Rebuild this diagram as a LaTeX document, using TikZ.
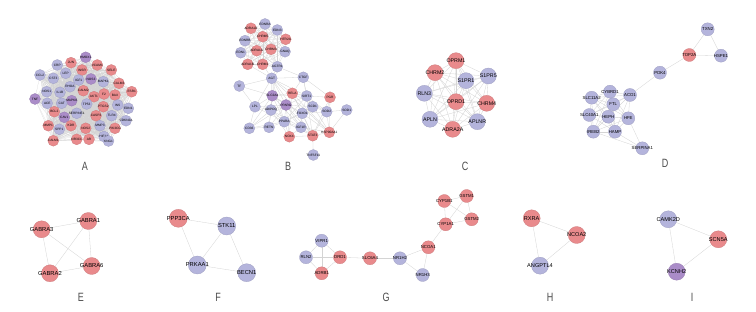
\documentclass[tikz,border=0pt]{standalone}
\usepackage{fontspec}
\usepackage{graphicx}
\setmainfont{Liberation Sans}
\usetikzlibrary{backgrounds}
\definecolor{pk}{RGB}{233,138,140}
\definecolor{lv}{RGB}{180,180,220}
\definecolor{pu}{RGB}{170,140,200}
\definecolor{edgec}{RGB}{212,212,212}
\newcommand{\zw}[1]{\makebox[0pt]{#1}}
\tikzset{
  gn/.style={circle, inner sep=0pt, line width=0.3pt, text=black},
  ed/.style={draw=edgec, line width=0.3pt},
  edA/.style={draw=edgec, line width=0.15pt},
  lab/.style={text=black!70, font=\fontsize{12}{12}\selectfont, inner sep=0pt}
}
\begin{document}
\begin{tikzpicture}[x=1pt,y=-1pt]
\begin{pgfonlayer}{background}
\fill[white] (0,0) rectangle (756,312);
\end{pgfonlayer}
\useasboundingbox (0,0) rectangle (756,312);

% ---------------- Panel A ----------------
\foreach [count=\i] \t/\x/\y/\col in {
HMOX1/85.7/57.3/pu, JUN/71/62.7/pk, VCAM1/97.3/65/pk, CRP/57.3/65/lv,
SELE/111.3/70/pk, INSR/82/70/pk, LEP/65.7/73.3/lv, CCL2/40/75/lv,
CST3/53.3/78.3/lv, IGF1/78.7/80/lv, NOS3/91/79/pu, MAPK1/103.3/81.7/lv,
CALM3/119/83.3/pk, RHOA/70/86.7/lv, CALM2/83.3/90.7/pk, ESR1/131.7/91.7/pk,
NOS1/46.7/91.7/lv, IL1B/60/92.3/lv, F2/104/94/pk, BAX/115/95/pk,
AKT1/94/96.7/pk, TNF/35/99/pu, MAPK8/71.7/100.7/pu, ACE/47.3/103.3/lv,
CAT/61.7/103.3/lv, TP53/86.7/104/lv, PTGS2/103.3/106.7/pk, INS/117.7/105/lv,
EDN1/128.3/108.3/lv, BCL2/54.3/111.7/pk, SERPINE1/76.7/113.3/lv, CASP3/96/115.7/pk,
TLR4/111.7/115.7/lv, CAV1/64.3/117.3/pu, CDKN2A/126/120.7/lv, MMP1/48.3/125.7/pk,
KDR/71/125.7/pk, MMP3/100/125.7/lv, NOS2/85.7/128.3/pk, PIK3CG/115/128.3/pk,
SPP1/59.3/129.3/lv, CALM1/53.3/140.7/pk, NR3C1/76.7/139.3/pk, AR/89/139.3/pk,
HIF1A/104/136.5/lv, KNG1/108.5/141/lv}{
  \node[gn, minimum size=11pt, fill=\col, draw=\col!88!black, font=\fontsize{3.2}{3.2}\selectfont] (a\i) at (\x,\y) {\zw{\t}};
}
\begin{pgfonlayer}{background}
\foreach \i in {1,...,45}{
  \pgfmathtruncatemacro\s{\i+1}
  \foreach \j in {\s,...,46}{\draw[edA] (a\i) -- (a\j);}
}
\end{pgfonlayer}
\node[lab] (labA) at (85,166) {\scalebox{0.75}[1]{A}};

% ---------------- Panel B ----------------
\foreach [count=\i] \t/\x/\y/\col in {
ADRA1D/251/28.3/pk, EDNRA/265/24/lv, EDN3/277.3/30/lv, EDNRB/245/40.7/lv,
CHRM5/262.7/36.7/pk, HTR2A/285.7/39.3/pk, ADRA1A/256.7/50.7/pk, CHRM3/271/49.3/pk,
GNAQ/285/51.7/lv, EDN1/240.7/52.7/lv, ADRA1B/247.7/64.3/pk, CHRM1/262.7/64.3/pk,
AGTR1/277.3/66.7/lv}{
  \node[gn, minimum size=11pt, fill=\col, draw=\col!88!black, font=\fontsize{3.2}{3.2}\selectfont, alias=b\t] (bt\i) at (\x,\y) {\zw{\t}};
}
\foreach \t/\x/\y/\col in {
AGT/271.7/78.3/lv, CTGF/303.3/77.3/lv, TF/239.3/86/lv, SLC2A4/272.3/95.7/pu,
RELA/292.3/93.3/pk, SIRT1/306.7/96/lv, PGR/330/97.3/pk, PPARG/286/105/pu,
LPL/255/106.7/lv, ADIPOQ/271/110/lv, SCD1/312.7/106.7/lv, SOD2/326.7/111.7/lv,
SOD1/346.7/110/lv, FOXO1/302.3/113.3/lv, PPARA/284.3/121.7/lv, CD36/249.3/128.3/lv,
RETN/269/127.3/lv, IGF1R/301/127.3/lv, STAT3/312.7/135.7/pk, HSP90AA1/329.3/132.3/pk,
NOX4/289.3/136.7/pk, TNFSF11/313.3/155/lv}{
  \node[gn, minimum size=11pt, fill=\col, draw=\col!88!black, font=\fontsize{3.2}{3.2}\selectfont] (b\t) at (\x,\y) {\zw{\t}};
}
\begin{pgfonlayer}{background}
\foreach \i in {1,...,12}{
  \pgfmathtruncatemacro\s{\i+1}
  \foreach \j in {\s,...,13}{\draw[ed, line width=0.2pt] (bt\i) -- (bt\j);}
}
\foreach \u/\v in {
AGT/AGTR1, AGT/CHRM1, AGT/ADRA1B, AGTR1/CTGF, AGTR1/SLC2A4,
AGT/CTGF, AGT/TF, AGT/SLC2A4, AGT/RELA, AGT/SIRT1, AGT/PPARG, AGT/ADIPOQ, AGT/LPL, AGT/PPARA, AGT/STAT3, AGT/HSP90AA1,
CTGF/RELA, CTGF/SIRT1, CTGF/PGR, CTGF/STAT3, TF/SLC2A4, TF/LPL,
SLC2A4/RELA, SLC2A4/PPARG, SLC2A4/LPL, SLC2A4/ADIPOQ, SLC2A4/SIRT1, SLC2A4/PPARA, SLC2A4/RETN, SLC2A4/CD36, SLC2A4/FOXO1, SLC2A4/IGF1R,
RELA/SIRT1, RELA/PPARG, RELA/STAT3, RELA/HSP90AA1, RELA/SOD2, RELA/NOX4, RELA/FOXO1,
SIRT1/PPARG, SIRT1/FOXO1, SIRT1/SCD1, SIRT1/PGR, SIRT1/SOD2, SIRT1/PPARA, SIRT1/HSP90AA1,
PGR/SOD2, PGR/HSP90AA1, PGR/STAT3,
PPARG/ADIPOQ, PPARG/LPL, PPARG/FOXO1, PPARG/SCD1, PPARG/PPARA, PPARG/IGF1R, PPARG/RETN, PPARG/CD36, PPARG/STAT3, PPARG/NOX4,
LPL/ADIPOQ, LPL/CD36, LPL/PPARA, ADIPOQ/PPARA, ADIPOQ/RETN, ADIPOQ/CD36, ADIPOQ/IGF1R, ADIPOQ/NOX4,
SCD1/FOXO1, SCD1/SOD2, SCD1/PPARA, SOD2/SOD1, SOD2/HSP90AA1, SOD2/STAT3, SOD2/FOXO1, SOD1/HSP90AA1,
FOXO1/PPARA, FOXO1/IGF1R, FOXO1/STAT3, FOXO1/HSP90AA1,
PPARA/RETN, PPARA/CD36, PPARA/IGF1R, PPARA/NOX4, PPARA/STAT3,
IGF1R/STAT3, IGF1R/HSP90AA1, IGF1R/NOX4, STAT3/HSP90AA1, STAT3/TNFSF11, STAT3/NOX4, RETN/CD36}{
  \draw[ed] (b\u) -- (b\v);
}
\end{pgfonlayer}
\node[lab] (labB) at (288,166) {\scalebox{0.75}[1]{B}};

% ---------------- Panel C ----------------
\foreach [count=\i] \t/\x/\y/\col in {
OPRM1/456/60.7/pk, CHRM2/435/72.7/pk, S1PR1/466/80.7/lv, S1PR5/488.3/76/lv,
RLN3/424.3/93.3/lv, OPRD1/456/101.7/pk, CHRM4/486.7/103.3/pk, APLN/430/119.3/lv,
APLNR/477.3/121.7/lv, ADRA2A/452.7/129.3/pk}{
  \node[gn, minimum size=16pt, fill=\col, draw=\col!88!black, font=\fontsize{5.3}{5.3}\selectfont] (c\i) at (\x,\y) {\zw{\t}};
}
\begin{pgfonlayer}{background}
\foreach \i in {1,...,9}{
  \pgfmathtruncatemacro\s{\i+1}
  \foreach \j in {\s,...,10}{\draw[ed] (c\i) -- (c\j);}
}
\end{pgfonlayer}
\node[lab] (labC) at (465,166) {\scalebox{0.75}[1]{C}};

% ---------------- Panel D ----------------
\foreach [count=\i] \t/\x/\y/\col in {
TXN2/707.7/29.3/lv, TOP2A/689.3/55/pk, HSPE1/721/55.7/lv, PDK4/660/72.7/lv,
CYBRD1/610/91.7/lv, ACO1/630/95/lv, SLC11A2/591.7/97.7/lv, FTL/613.3/104.3/lv,
SLC40A1/589.3/115/lv, HEPH/608.3/116.7/lv, HFE/628.3/118.3/lv, IREB2/593.3/131.7/lv,
HAMP/615/131.7/lv, SERPINA1/642.3/148.3/lv}{
  \node[gn, minimum size=13pt, fill=\col, draw=\col!88!black, font=\fontsize{4.3}{4.3}\selectfont] (d\i) at (\x,\y) {\zw{\t}};
}
\begin{pgfonlayer}{background}
\foreach \i in {5,...,12}{
  \pgfmathtruncatemacro\s{\i+1}
  \foreach \j in {\s,...,13}{\draw[ed] (d\i) -- (d\j);}
}
\foreach \u/\v in {1/2, 1/3, 2/3, 2/4, 4/6, 14/13, 14/11, 14/12}{
  \draw[ed] (d\u) -- (d\v);
}
\end{pgfonlayer}
\node[lab] (labD) at (665,163) {\scalebox{0.75}[1]{D}};

% ---------------- Panel E ----------------
\foreach [count=\i] \t/\x/\y in {GABRA3/41.7/229.3, GABRA1/88.3/221, GABRA6/91.7/266, GABRA2/50/273.3}{
  \node[gn, minimum size=17pt, fill=pk, draw=pk!88!black, font=\fontsize{5.8}{5.8}\selectfont] (e\i) at (\x,\y) {\zw{\t}};
}
\begin{pgfonlayer}{background}
\foreach \u/\v in {1/2, 1/3, 1/4, 2/3, 2/4, 3/4}{\draw[ed] (e\u) -- (e\v);}
\end{pgfonlayer}
\node[lab] (labE) at (81,297) {\scalebox{0.75}[1]{E}};

% ---------------- Panel F ----------------
\foreach [count=\i] \t/\x/\y/\col in {PPP3CA/178.3/218.3/pk, STK11/226.7/226/lv, PRKAA1/197.3/265/lv, BECN1/246.7/272.7/lv}{
  \node[gn, minimum size=18pt, fill=\col, draw=\col!88!black, font=\fontsize{5.8}{5.8}\selectfont] (f\i) at (\x,\y) {\zw{\t}};
}
\begin{pgfonlayer}{background}
\foreach \u/\v in {1/2, 1/3, 2/3, 2/4, 3/4}{\draw[ed] (f\u) -- (f\v);}
\end{pgfonlayer}
\node[lab] (labF) at (218,297) {\scalebox{0.75}[1]{F}};

% ---------------- Panel G ----------------
\foreach \t/\x/\y/\col in {
CYP1B1/444.3/201/pk, GSTM1/466.7/196/pk, GSTM2/471.7/219.3/pk, CYP1A1/445.7/224.3/pk,
NCOA1/428.3/247.3/pk, NR1H2/400/258.3/lv, NR1H3/422.7/275/lv, SLC6A4/370/258.3/pk,
DRD1/340/257.3/pk, VIPR1/321.7/240.7/lv, RLN2/306/257.3/lv, ADRB1/321.7/273.3/pk}{
  \node[gn, minimum size=13pt, fill=\col, draw=\col!88!black, font=\fontsize{4.3}{4.3}\selectfont] (g\t) at (\x,\y) {\zw{\t}};
}
\begin{pgfonlayer}{background}
\foreach \u/\v in {CYP1B1/GSTM1, CYP1B1/CYP1A1, CYP1B1/GSTM2, GSTM1/CYP1A1, GSTM1/GSTM2, CYP1A1/GSTM2,
CYP1A1/NCOA1, NCOA1/NR1H2, NCOA1/NR1H3, NR1H2/NR1H3, NR1H2/SLC6A4, SLC6A4/DRD1,
DRD1/VIPR1, DRD1/RLN2, DRD1/ADRB1, VIPR1/RLN2, VIPR1/ADRB1, RLN2/ADRB1}{
  \draw[ed] (g\u) -- (g\v);
}
\end{pgfonlayer}
\node[lab] (labG) at (386,297) {\scalebox{0.75}[1]{G}};

% ---------------- Panel H ----------------
\foreach [count=\i] \t/\x/\y/\col in {RXRA/531.7/218.3/pk, NCOA2/576.7/235/pk, ANGPTL4/540/265.7/lv}{
  \node[gn, minimum size=17pt, fill=\col, draw=\col!88!black, font=\fontsize{5.6}{5.6}\selectfont] (h\i) at (\x,\y) {\zw{\t}};
}
\begin{pgfonlayer}{background}
\foreach \u/\v in {1/2, 1/3, 2/3}{\draw[ed] (h\u) -- (h\v);}
\end{pgfonlayer}
\node[lab] (labH) at (550,297) {\scalebox{0.75}[1]{H}};

% ---------------- Panel I ----------------
\foreach [count=\i] \t/\x/\y/\col in {CAMK2D/668.3/219.3/lv, SCN5A/718.3/239.3/pk, KCNH2/676.7/271.7/pu}{
  \node[gn, minimum size=17pt, fill=\col, draw=\col!88!black, font=\fontsize{5.6}{5.6}\selectfont] (i\i) at (\x,\y) {\zw{\t}};
}
\begin{pgfonlayer}{background}
\foreach \u/\v in {1/2, 1/3, 2/3}{\draw[ed] (i\u) -- (i\v);}
\end{pgfonlayer}
\node[lab] (labI) at (692,297) {\scalebox{0.75}[1]{I}};
\end{tikzpicture}
\end{document}
